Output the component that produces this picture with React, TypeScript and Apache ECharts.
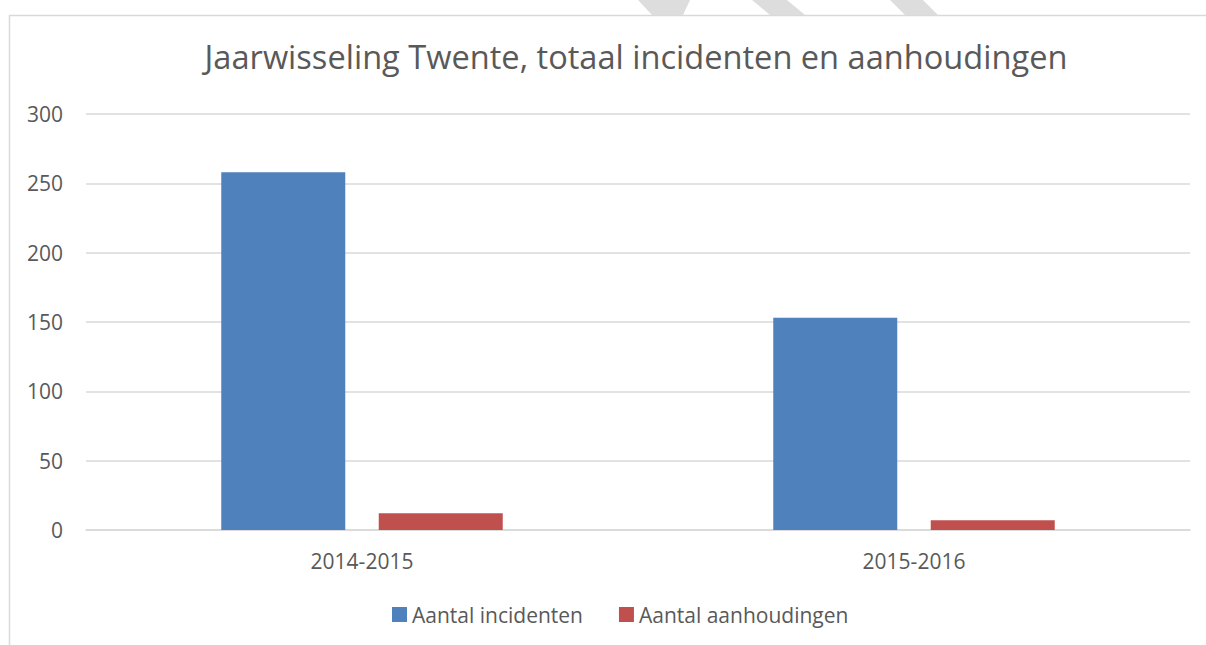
import React, { useEffect, useRef } from "react";
import * as echarts from "echarts";

const categories = ["2014-2015", "2015-2016"];
const incidenten = [258, 153];
const aanhoudingen = [12, 7];
const seriesNames = ["Aantal incidenten", "Aantal aanhoudingen"];
const titleText = "Jaarwisseling Twente, totaal incidenten en aanhoudingen";

const FONT = "'Open Sans', 'Noto Sans', sans-serif";
const TEXT = "#595959";

export default function App() {
  const ref = useRef<HTMLDivElement>(null);
  useEffect(() => {
    if (!ref.current) return;
    const chart = echarts.init(ref.current, undefined, { renderer: "svg" });
    chart.setOption({
      animation: false,
      backgroundColor: "#ffffff",
      textStyle: { fontFamily: FONT },
      title: {
        text: titleText,
        left: "631",
        top: 35,
        textAlign: "center",
        textStyle: { fontFamily: FONT, fontSize: 32.6, fontWeight: "normal", color: TEXT },
      },
      legend: {
        left: 387,
        top: 599,
        itemWidth: 15,
        itemHeight: 15,
        itemGap: 36,
        icon: "rect",
        textStyle: { fontFamily: FONT, fontSize: 21, color: TEXT, padding: [0, 0, 0, 0] },
        data: seriesNames,
      },
      grid: { left: 86, right: 16, top: 114, bottom: 115, containLabel: false },
      xAxis: {
        type: "category",
        data: categories,
        axisLine: { lineStyle: { color: "#d9d9d9", width: 1.5 } },
        axisTick: { show: false },
        axisLabel: { fontFamily: FONT, fontSize: 21, color: TEXT, margin: 20 },
      },
      yAxis: {
        type: "value",
        min: 0,
        max: 300,
        interval: 50,
        axisLine: { show: false },
        axisTick: { show: false },
        axisLabel: { fontFamily: FONT, fontSize: 21, color: TEXT, margin: 23 },
        splitLine: { lineStyle: { color: "#d9d9d9", width: 1.5 } },
      },
      series: [
        {
          name: seriesNames[0],
          type: "bar",
          data: incidenten,
          barWidth: 124,
          barGap: "27%",
          itemStyle: { color: "#4F81BD" },
        },
        {
          name: seriesNames[1],
          type: "bar",
          data: aanhoudingen,
          barWidth: 124,
          barGap: "27%",
          itemStyle: { color: "#C0504D" },
        },
      ],
      graphic: [
        {
          type: "polyline",
          silent: true,
          shape: { points: [[9.5, 700], [9.5, 15.5], [1300, 15.5]] },
          style: { stroke: "#d9d9d9", lineWidth: 1.5, fill: null },
        },
        {
          type: "polygon",
          silent: true,
          shape: { points: [[638, 0], [690, 0], [683, 15], [652, 15]] },
          style: { fill: "#dddddd" },
        },
        {
          type: "polygon",
          silent: true,
          shape: { points: [[752, 0], [787, 0], [805, 15], [770, 15]] },
          style: { fill: "#dddddd" },
        },
        {
          type: "polygon",
          silent: true,
          shape: { points: [[890, 0], [923, 0], [938, 15], [905, 15]] },
          style: { fill: "#dddddd" },
        },
      ],
    });
    return () => chart.dispose();
  }, []);
  return (
    <div
      ref={ref}
      style={{ position: "absolute", left: 0, top: 0, width: 1206, height: 645 }}
    />
  );
}
